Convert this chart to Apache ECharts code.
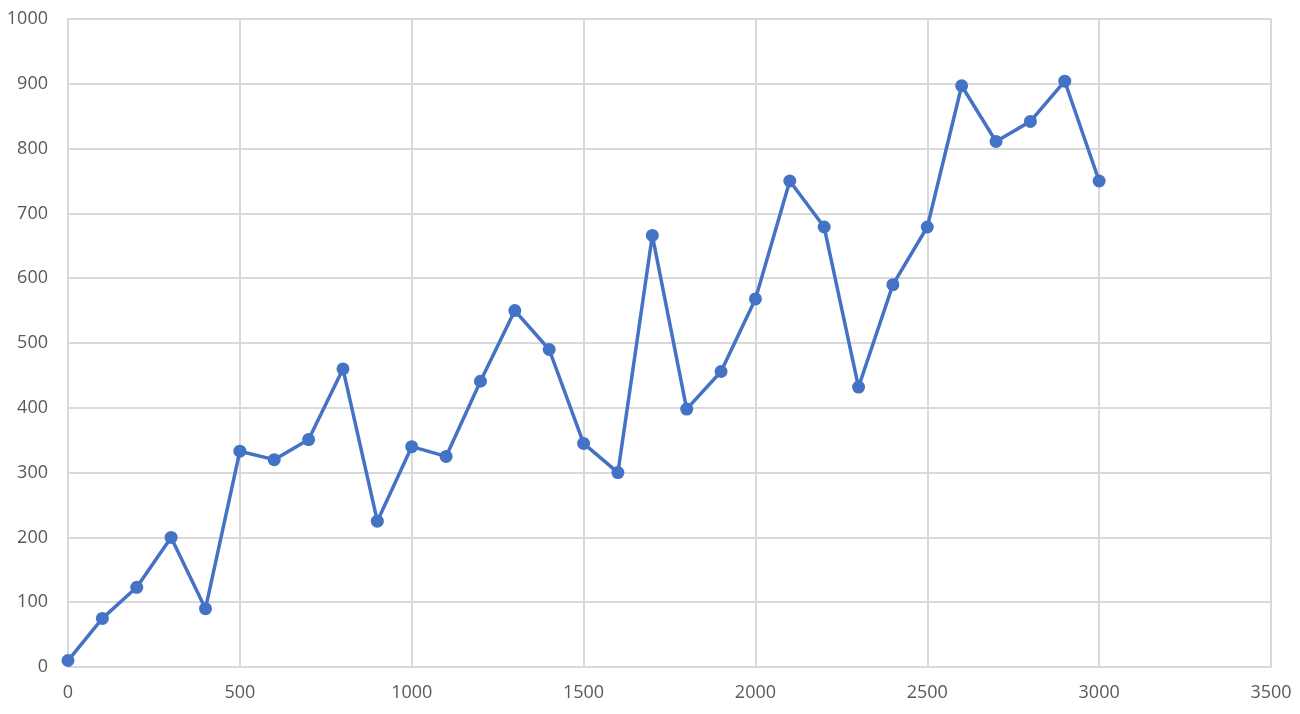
<!DOCTYPE html>
<html>
<head>
<meta charset="utf-8">
<title>Scatter line</title>
<script src="https://cdn.jsdelivr.net/npm/echarts@6/dist/echarts.min.js"></script>
<style>
  html, body { margin: 0; padding: 0; background: #fff; }
  #chart { width: 1300px; height: 714px; }
</style>
</head>
<body>
<div id="chart"></div>
<script>
// x positions and readings, one per marker
var xValues = [0, 100, 200, 300, 400, 500, 600, 700, 800, 900, 1000,
  1100, 1200, 1300, 1400, 1500, 1600, 1700, 1800, 1900, 2000,
  2100, 2200, 2300, 2400, 2500, 2600, 2700, 2800, 2900, 3000];
var yValues = [10, 75, 123, 200, 90, 333, 320, 351, 460, 225, 340,
  325, 441, 550, 490, 345, 300, 666, 398, 456, 568,
  750, 679, 432, 590, 679, 897, 811, 842, 904, 750];

var points = xValues.map(function (x, i) { return [x, yValues[i]]; });

var gridColor = '#d9d9d9';
var labelColor = '#595959';
var plain = function (v) { return String(v); };

var chart = echarts.init(document.getElementById('chart'));
chart.setOption({
  animation: false,
  grid: { left: 68, right: 29, top: 19, bottom: 47 },
  xAxis: {
    type: 'value',
    min: 0, max: 3500, interval: 500,
    axisLine: { show: true, lineStyle: { color: gridColor, width: 2 } },
    axisTick: { show: false },
    splitLine: { show: true, lineStyle: { color: gridColor, width: 2 } },
    axisLabel: { color: labelColor, fontSize: 18, fontFamily: 'Open Sans', margin: 17, formatter: plain }
  },
  yAxis: {
    type: 'value',
    min: 0, max: 1000, interval: 100,
    axisLine: { show: true, lineStyle: { color: gridColor, width: 2 } },
    axisTick: { show: false },
    splitLine: { show: true, lineStyle: { color: gridColor, width: 2 } },
    axisLabel: { color: labelColor, fontSize: 18, fontFamily: 'Open Sans', margin: 20, formatter: plain }
  },
  series: [{
    type: 'line',
    data: points,
    symbol: 'circle',
    symbolSize: 13,
    lineStyle: { color: '#4472c4', width: 3.5 },
    itemStyle: { color: '#4472c4' }
  }]
});
</script>
</body>
</html>
